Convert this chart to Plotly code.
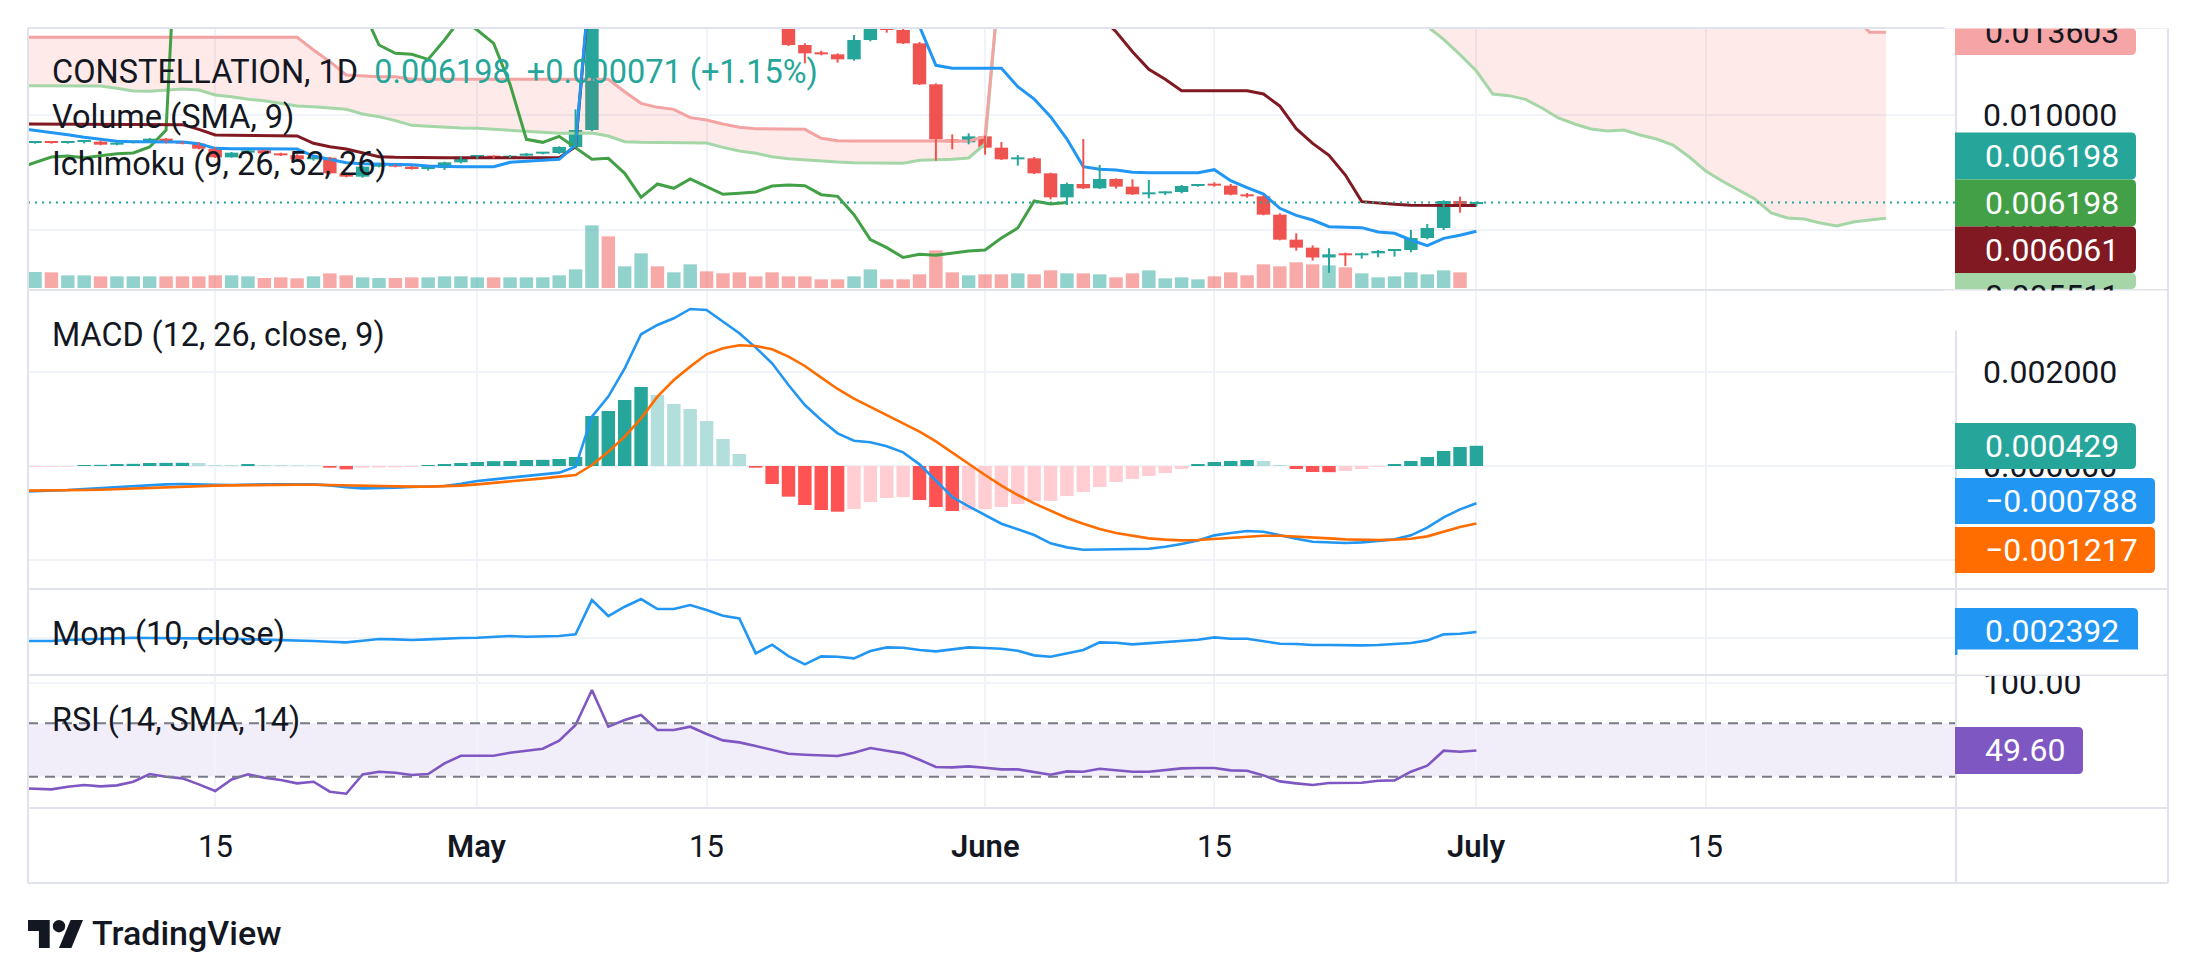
import plotly.graph_objects as go
import pandas as pd

# ------------------------------------------------------------------ data
start_date = "2023-04-03"          # first daily bar (it sits just left of the visible window)
symbol_text = "CONSTELLATION, 1D"
change_text = "+0.000071 (+1.15%)"
volume_title = "Volume (SMA, 9)"
ichimoku_title = "Ichimoku (9, 26, 52, 26)"
macd_title = "MACD (12, 26, close, 9)"
mom_title = "Mom (10, close)"
rsi_title = "RSI (14, SMA, 14)"

open_ = [0.008810,
         0.008783, 0.008841, 0.008783, 0.008826, 0.008841, 0.008710, 0.008797, 0.008826, 0.008971, 0.008797,
         0.008754, 0.008536, 0.008159, 0.008362, 0.008464, 0.008333, 0.008246, 0.008072, 0.008145, 0.007464,
         0.007319, 0.007754, 0.007826, 0.007754, 0.007652, 0.007696, 0.007942, 0.008174, 0.008217, 0.008145,
         0.008232, 0.008319, 0.008348, 0.008609, 0.009348, 0.02326, 0.0172, 0.0208, 0.0238, 0.0200,
         0.0203, 0.0206, 0.0188, 0.0174, 0.0166, 0.0157, 0.0146, 0.013043, 0.012681, 0.012638,
         0.012420, 0.013261, 0.014200, 0.013696, 0.013116, 0.011333, 0.008942, 0.008812, 0.009072, 0.008580,
         0.008072, 0.008116, 0.007464, 0.006420, 0.007000, 0.006812, 0.007217, 0.006884, 0.006551, 0.006594,
         0.006652, 0.006913, 0.006957, 0.006928, 0.006536, 0.006464, 0.005667, 0.004580, 0.004232, 0.003806,
         0.003942, 0.003899, 0.003986, 0.004087, 0.004130, 0.004652, 0.005087, 0.006261, 0.006127]
high = [0.008880,
        0.008870, 0.008870, 0.008855, 0.008870, 0.008884, 0.008826, 0.008855, 0.009000, 0.009000, 0.008855,
        0.008797, 0.008594, 0.008391, 0.008493, 0.008507, 0.008362, 0.008290, 0.008174, 0.008174, 0.007493,
        0.007783, 0.007855, 0.007855, 0.007783, 0.007710, 0.007971, 0.008203, 0.008246, 0.008246, 0.008261,
        0.008348, 0.008362, 0.008638, 0.010246, 0.0262, 0.0252, 0.0225, 0.02406, 0.0239, 0.0208,
        0.0211, 0.0209, 0.0190, 0.0177, 0.0168, 0.0159, 0.0148, 0.013116, 0.012797, 0.012681,
        0.013478, 0.016000, 0.014450, 0.013750, 0.013174, 0.011377, 0.009159, 0.009203, 0.009101, 0.008826,
        0.008261, 0.008174, 0.007493, 0.007058, 0.008957, 0.007826, 0.007246, 0.007203, 0.007174, 0.006681,
        0.006957, 0.006986, 0.007072, 0.007000, 0.006609, 0.006507, 0.005725, 0.004855, 0.004333, 0.004203,
        0.004014, 0.004014, 0.004130, 0.004159, 0.005000, 0.005261, 0.006290, 0.006449, 0.006240]
low = [0.008760,
       0.008754, 0.008754, 0.008754, 0.008768, 0.008681, 0.008681, 0.008768, 0.008797, 0.008768, 0.008725,
       0.008507, 0.008130, 0.008145, 0.008333, 0.008304, 0.008217, 0.008043, 0.008014, 0.007420, 0.007290,
       0.007275, 0.007725, 0.007725, 0.007623, 0.007580, 0.007609, 0.007899, 0.008101, 0.008116, 0.008130,
       0.008188, 0.008290, 0.008304, 0.008565, 0.009300, 0.0165, 0.0168, 0.0202, 0.0195, 0.0192,
       0.0198, 0.0185, 0.0170, 0.0162, 0.0154, 0.0143, 0.0130, 0.012246, 0.012594, 0.012275,
       0.012362, 0.013203, 0.013580, 0.013087, 0.011304, 0.008014, 0.008507, 0.008725, 0.008275, 0.008043,
       0.007797, 0.007435, 0.006333, 0.006087, 0.006783, 0.006783, 0.006797, 0.006522, 0.006377, 0.006522,
       0.006594, 0.006884, 0.006884, 0.006507, 0.006406, 0.005638, 0.004551, 0.004101, 0.003667, 0.003145,
       0.003435, 0.003754, 0.003812, 0.003841, 0.004029, 0.004594, 0.005000, 0.005754, 0.006043]
close = [0.008783,
         0.008841, 0.008783, 0.008826, 0.008841, 0.008710, 0.008797, 0.008826, 0.008971, 0.008797, 0.008754,
         0.008536, 0.008159, 0.008362, 0.008464, 0.008333, 0.008246, 0.008072, 0.008145, 0.007464, 0.007319,
         0.007754, 0.007826, 0.007754, 0.007652, 0.007696, 0.007942, 0.008174, 0.008217, 0.008145, 0.008232,
         0.008319, 0.008348, 0.008609, 0.009348, 0.02326, 0.0172, 0.0208, 0.0238, 0.0200, 0.0203,
         0.0206, 0.0188, 0.0174, 0.0166, 0.0157, 0.0146, 0.013043, 0.012681, 0.012638, 0.012420,
         0.013261, 0.014200, 0.013696, 0.013116, 0.011333, 0.008942, 0.008812, 0.009072, 0.008580, 0.008072,
         0.008116, 0.007464, 0.006420, 0.007000, 0.006812, 0.007217, 0.006884, 0.006551, 0.006594, 0.006652,
         0.006913, 0.006957, 0.006928, 0.006536, 0.006464, 0.005667, 0.004580, 0.004232, 0.003806, 0.003942,
         0.003899, 0.003986, 0.004087, 0.004130, 0.004652, 0.005087, 0.006261, 0.006127, 0.006198]
volume = [46,
          48, 47, 38, 38, 35, 35, 35, 35, 35, 35, 35, 38, 38, 35, 30, 32, 29, 35, 44, 38, 32, 30, 30,
          32, 32, 35, 35, 32, 32, 32, 32, 32, 38, 56, 188, 155, 65, 104, 65, 47, 71, 50, 44, 47, 35, 47,
          35, 35, 26, 26, 35, 56, 26, 26, 41, 113, 47, 38, 41, 41, 44, 41, 53, 44, 44, 41, 32, 44, 53,
          29, 32, 26, 35, 47, 38, 71, 65, 77, 71, 68, 62, 44, 32, 35, 47, 41, 53, 47, 0]

tenkan = [0.009420,
          0.009333, 0.009246, 0.009145, 0.009029, 0.008942, 0.008855, 0.008841, 0.008841, 0.008841, 0.008826,
          0.008754, 0.008551, 0.008536, 0.008536, 0.008536, 0.008522, 0.008522, 0.008217, 0.008072, 0.007928,
          0.007884, 0.007870, 0.007870, 0.007841, 0.007783, 0.007754, 0.007754, 0.007754, 0.007754, 0.007942,
          0.007986, 0.008014, 0.008072, 0.008696, 0.0169, 0.0171, 0.0172, 0.0172, 0.0172, 0.0172,
          0.0172, 0.0172, 0.0177, 0.0203, 0.0203, 0.0199, 0.0186, 0.0174, 0.0174, 0.0172,
          0.0161, 0.0152, 0.0149, 0.0145, 0.01385, 0.012159, 0.012029, 0.012029, 0.012029, 0.012029,
          0.011232, 0.010696, 0.009928, 0.008957, 0.007754, 0.007638, 0.007609, 0.007507, 0.007493, 0.007493,
          0.007493, 0.007493, 0.007623, 0.007145, 0.006841, 0.006565, 0.005942, 0.005638, 0.005435, 0.005145,
          0.005116, 0.005101, 0.004913, 0.004855, 0.004565, 0.004319, 0.004638, 0.004768, 0.004942]
kijun = [0.009609,
         0.009609, 0.009609, 0.009609, 0.009609, 0.009609, 0.009609, 0.009609, 0.009609, 0.009609, 0.009580,
         0.009377, 0.009130, 0.009116, 0.009116, 0.009101, 0.009087, 0.009087, 0.008768, 0.008623, 0.008522,
         0.008362, 0.008188, 0.008159, 0.008145, 0.008145, 0.008145, 0.008145, 0.008145, 0.008145, 0.008145,
         0.008145, 0.008145, 0.008145, 0.008623, 0.0167, 0.0167, 0.0167, 0.0167, 0.0167, 0.0167,
         0.0167, 0.0167, 0.0167, 0.0167, 0.0167, 0.0167, 0.0168, 0.0168, 0.0168, 0.0168,
         0.0168, 0.0168, 0.0168, 0.0168, 0.0168, 0.0168, 0.0170, 0.0170, 0.0170, 0.0170,
         0.01665, 0.0159, 0.0159, 0.0158, 0.0151, 0.0143, 0.013623, 0.012754, 0.011986, 0.011551,
         0.011058, 0.011058, 0.011058, 0.011058, 0.011058, 0.010913, 0.010391, 0.009406, 0.008768, 0.008246,
         0.007391, 0.006232, 0.006159, 0.006116, 0.006072, 0.006061, 0.006061, 0.006061, 0.006061]
span_a = [0.011275,
          0.011275, 0.011275, 0.011275, 0.011275, 0.011261, 0.011159, 0.011044, 0.011029, 0.011087, 0.011130,
          0.011087, 0.010870, 0.010797, 0.010681, 0.010623, 0.010507, 0.010391, 0.010362, 0.010319, 0.010246,
          0.010043, 0.009928, 0.009754, 0.009551, 0.009507, 0.009464, 0.009435, 0.009420, 0.009377, 0.009333,
          0.009275, 0.009232, 0.009203, 0.009203, 0.009217, 0.009087, 0.008841, 0.008812, 0.008812, 0.008797,
          0.008797, 0.008783, 0.008594, 0.008435, 0.008333, 0.008188, 0.008101, 0.008043, 0.007986, 0.007957,
          0.007928, 0.007913, 0.007899, 0.007899, 0.008029, 0.008043, 0.008072, 0.008130, 0.008739, 0.0168,
          0.0169, 0.01695, 0.01695, 0.01695, 0.01695, 0.01695, 0.01695, 0.0172, 0.0185, 0.0185,
          0.0183, 0.0177, 0.0171, 0.0171, 0.0170, 0.01645, 0.0160, 0.01585, 0.01575, 0.0154,
          0.01458, 0.01452, 0.01452, 0.01452, 0.01452, 0.01385, 0.013290, 0.012623, 0.011913, 0.010913,
          0.010841, 0.010681, 0.010304, 0.009870, 0.009609, 0.009391, 0.009304, 0.009348, 0.009130, 0.008957,
          0.008696, 0.008174, 0.007565, 0.007130, 0.006739, 0.006348, 0.005739, 0.005522, 0.005478, 0.005304,
          0.005174, 0.005348, 0.005435, 0.005511]
span_b = [0.013378] * 18 + [0.012826, 0.012318, 0.011739, 0.011696, 0.011667, 0.011667] + \
         [0.011551] * 13 + [0.011014, 0.010507, 0.010333, 0.010246, 0.009884, 0.009783, 0.009609, 0.009464,
                            0.009406, 0.009406, 0.009406, 0.009377, 0.008986, 0.008884] + \
         [0.008870] * 8 + [0.009058] + [0.0167] * 37 + [0.0160] * 8 + [0.0146] * 7 + \
         [0.01432, 0.013603, 0.013603]

macd = [-0.000545,
        -0.000537, -0.000523, -0.000509, -0.000488, -0.000467, -0.000452, -0.000424, -0.000403, -0.000389, -0.000382,
        -0.000382, -0.000396, -0.000403, -0.000389, -0.000389, -0.000389, -0.000389, -0.000389, -0.000410, -0.000452,
        -0.000474, -0.000474, -0.000460, -0.000445, -0.000438, -0.000424, -0.000375, -0.000318, -0.000283, -0.000247,
        -0.000219, -0.000170, -0.000141, -0.000014, 0.001046, 0.001471, 0.002072, 0.002793, 0.002991, 0.003132,
        0.003330, 0.003309, 0.003061, 0.002814, 0.002510, 0.002178, 0.001718, 0.001294, 0.000976, 0.000693,
        0.000537, 0.000502, 0.000417, 0.000290, 0.000035, -0.000318, -0.000658, -0.000855, -0.001039, -0.001223,
        -0.001343, -0.001463, -0.001640, -0.001725, -0.001775, -0.001768, -0.001760, -0.001760, -0.001753, -0.001711,
        -0.001654, -0.001577, -0.001471, -0.001421, -0.001379, -0.001393, -0.001471, -0.001541, -0.001605, -0.001626,
        -0.001633, -0.001619, -0.001591, -0.001555, -0.001471, -0.001308, -0.001089, -0.000919, -0.000788]
signal = [-0.000523,
          -0.000523, -0.000523, -0.000516, -0.000509, -0.000502, -0.000488, -0.000474, -0.000460, -0.000445, -0.000431,
          -0.000424, -0.000417, -0.000410, -0.000403, -0.000403, -0.000403, -0.000396, -0.000396, -0.000403, -0.000424,
          -0.000431, -0.000438, -0.000438, -0.000438, -0.000438, -0.000431, -0.000417, -0.000389, -0.000361, -0.000332,
          -0.000297, -0.000262, -0.000226, -0.000191, 0.000021, 0.000304, 0.000622, 0.001011, 0.001471, 0.001824,
          0.002107, 0.002368, 0.002496, 0.002559, 0.002545, 0.002475, 0.002319, 0.002121, 0.001874, 0.001633,
          0.001428, 0.001251, 0.001089, 0.000905, 0.000728, 0.000523, 0.000283, 0.000035, -0.000191, -0.000417,
          -0.000615, -0.000792, -0.000954, -0.001103, -0.001223, -0.001336, -0.001421, -0.001478, -0.001534, -0.001562,
          -0.001577, -0.001570, -0.001548, -0.001534, -0.001506, -0.001478, -0.001478, -0.001492, -0.001513, -0.001534,
          -0.001555, -0.001570, -0.001570, -0.001562, -0.001541, -0.001492, -0.001393, -0.001294, -0.001217]
hist = [-0.000024,
        -0.000021, -0.000018, -0.000014, 0.000021, 0.000025, 0.000042, 0.000046, 0.000064, 0.000066, 0.000068,
        0.000064, 0.000021, 0.000020, 0.000042, 0.000021, 0.000018, 0.000014, 0.000011, -0.000035, -0.000071,
        -0.000035, -0.000032, -0.000028, -0.000021, 0.000021, 0.000042, 0.000064, 0.000085, 0.000103, 0.000106,
        0.000127, 0.000131, 0.000148, 0.000191, 0.001061, 0.001167, 0.001400, 0.001676, 0.001506, 0.001315,
        0.001209, 0.000954, 0.000573, 0.000255, -0.000035, -0.000382, -0.000650, -0.000827, -0.000933, -0.000969,
        -0.000912, -0.000764, -0.000679, -0.000658, -0.000721, -0.000870, -0.000954, -0.000933, -0.000912, -0.000870,
        -0.000806, -0.000742, -0.000739, -0.000636, -0.000551, -0.000445, -0.000339, -0.000276, -0.000212, -0.000148,
        -0.000064, 0.000042, 0.000085, 0.000106, 0.000127, 0.000106, 0.000021, -0.000064, -0.000127, -0.000131,
        -0.000106, -0.000064, -0.000021, 0.000042, 0.000106, 0.000191, 0.000318, 0.000403, 0.000429]
mom = [-0.001380,
       -0.001380, -0.001380, -0.000966, -0.000690, -0.000414, -0.000276, 0.0, -0.000138, -0.000276, -0.000276,
       -0.000276, -0.000276, -0.000414, -0.000552, -0.000690, -0.000966, -0.001242, -0.001380, -0.001656, -0.001932,
       -0.001242, -0.000552, -0.000690, -0.000966, -0.000690, -0.000276, -0.000138, 0.0, 0.000276, 0.000690,
       0.000414, 0.000414, 0.000690, 0.001380, 0.015594, 0.008970, 0.012834, 0.016008, 0.011868, 0.011868,
       0.013524, 0.011454, 0.009108, 0.008004, -0.006486, -0.002898, -0.007590, -0.011040, -0.007728, -0.007866,
       -0.008556, -0.005520, -0.004002, -0.004140, -0.005106, -0.005658, -0.004692, -0.004002, -0.004278, -0.004554,
       -0.005382, -0.007314, -0.007866, -0.006624, -0.005106, -0.001932, -0.002070, -0.002760, -0.002208, -0.001656,
       -0.001380, -0.000828, 0.000138, -0.000414, -0.000414, -0.001518, -0.002484, -0.002622, -0.003036, -0.003036,
       -0.003174, -0.003174, -0.003036, -0.002760, -0.002208, -0.001104, 0.001380, 0.001656, 0.002392]
rsi = [21.45,
       20.95, 20.45, 22.45, 23.7, 22.7, 23.45, 26.2, 31.95, 29.95, 28.7, 24.2, 19.2, 27.95, 31.7, 29.2,
       27.45, 24.95, 26.2, 18.7, 17.2, 31.7, 33.7, 32.95, 31.2, 31.95, 39.95, 45.7, 45.7, 45.7, 47.95,
       49.7, 50.95, 56.95, 68.7, 94.95, 67.45, 72.45, 76.2, 64.95, 64.95, 67.45, 61.95, 57.2, 55.7, 52.95,
       49.95, 47.2, 46.45, 45.95, 45.45, 47.95, 51.45, 49.45, 47.45, 42.7, 37.2, 36.95, 37.7, 36.7, 35.45,
       35.45, 33.7, 31.45, 33.95, 33.7, 35.95, 34.95, 33.7, 33.7, 34.7, 36.2, 36.45, 36.45, 34.7, 34.45,
       30.95, 26.45, 24.95, 23.7, 25.2, 25.45, 25.45, 26.95, 27.2, 33.7, 38.2, 49.45, 48.7, 49.60]

RSI_UPPER, RSI_LOWER = 70, 30
CHIKOU_SHIFT = 25                   # TradingView plots the lagging span 26 - 1 bars back

tick_dates = ["2023-04-15", "2023-05-01", "2023-05-15", "2023-06-01", "2023-06-15", "2023-07-01", "2023-07-15"]
tick_text = ["15", "May", "15", "June", "15", "July", "15"]
tick_is_month = [False, True, False, True, False, True, False]

# ------------------------------------------------------------------ geometry / style
W, H = 2197, 980
def PX(x): return x / W
def PY(y): return 1 - y / H

X0, X1, XR = 28, 1956, 2168           # plot left, price-axis line, right border
P_MAIN, P_MACD, P_MOM, P_RSI = (28, 290), (290, 589), (589, 675), (675, 808)
FONT = "Roboto"
TXT = "#131722"
UP, DOWN = "#26A69A", "#EF5350"
GRID = "#F0F3FA"
FRAME = "#E0E3EB"

dates = pd.date_range(start_date, periods=len(close), freq="D")
dates_cloud = pd.date_range(start_date, periods=len(span_a), freq="D")
day0 = pd.Timestamp(start_date)
x_range = [day0 + pd.Timedelta(days=0.57), day0 + pd.Timedelta(days=118.28)]
BAR_W = 0.82 * 86400000

price_range = [0.002391, 0.013783]
vol_range = [-6, 780]
macd_range = [-0.002608, 0.003732]
mom_range = [-0.01544, 0.02016]
rsi_range = [6.5, 106.2]

fig = go.Figure()

# volume
up_flags = [c >= o for o, c in zip(open_, close)]
fig.add_trace(go.Bar(x=dates, y=volume, width=BAR_W, xaxis="x", yaxis="y",
                     marker=dict(color=["rgba(38,166,154,0.5)" if u else "rgba(239,83,80,0.5)" for u in up_flags],
                                 line_width=0)))

# ichimoku cloud
fig.add_trace(go.Scatter(x=dates_cloud, y=span_a, mode="lines", xaxis="x", yaxis="y2",
                         line=dict(color="#A5D6A7", width=3)))
fig.add_trace(go.Scatter(x=dates_cloud, y=span_b, mode="lines", xaxis="x", yaxis="y2",
                         line=dict(color="#F4A3A3", width=3), fill="tonexty",
                         fillcolor="rgba(244,67,54,0.11)"))
# lagging span
fig.add_trace(go.Scatter(x=dates[:len(close) - CHIKOU_SHIFT], y=close[CHIKOU_SHIFT:], mode="lines",
                         xaxis="x", yaxis="y2", line=dict(color="#43A047", width=3)))
fig.add_trace(go.Scatter(x=dates, y=kijun, mode="lines", xaxis="x", yaxis="y2",
                         line=dict(color="#801922", width=3)))
fig.add_trace(go.Scatter(x=dates, y=tenkan, mode="lines", xaxis="x", yaxis="y2",
                         line=dict(color="#2196F3", width=3)))

# candles: wicks + bodies
for flag, col in ((True, UP), (False, DOWN)):
    wx, wy = [], []
    for d, h_, l_, u in zip(dates, high, low, up_flags):
        if u == flag:
            wx += [d, d, None]
            wy += [l_, h_, None]
    fig.add_trace(go.Scatter(x=wx, y=wy, mode="lines", xaxis="x", yaxis="y2",
                             line=dict(color=col, width=2)))
min_body = (price_range[1] - price_range[0]) / (P_MAIN[1] - P_MAIN[0]) * 2
fig.add_trace(go.Bar(x=dates, y=[max(abs(c - o), min_body) for o, c in zip(open_, close)],
                     base=[min(o, c) for o, c in zip(open_, close)], width=BAR_W,
                     xaxis="x", yaxis="y2",
                     marker=dict(color=[UP if u else DOWN for u in up_flags], line_width=0)))

# MACD
hcol = []
for i, v in enumerate(hist):
    prev = hist[i - 1] if i > 0 else v
    if v >= 0:
        hcol.append("#26A69A" if v > prev else "#B2DFDB")
    else:
        hcol.append("#FF5252" if v < prev else "#FFCDD2")
fig.add_trace(go.Bar(x=dates, y=hist, width=BAR_W, xaxis="x2", yaxis="y3",
                     marker=dict(color=hcol, line_width=0)))
fig.add_trace(go.Scatter(x=dates, y=macd, mode="lines", xaxis="x2", yaxis="y3",
                         line=dict(color="#2196F3", width=2.6)))
fig.add_trace(go.Scatter(x=dates, y=signal, mode="lines", xaxis="x2", yaxis="y3",
                         line=dict(color="#FF6D00", width=2.6)))
# Momentum
fig.add_trace(go.Scatter(x=dates, y=mom, mode="lines", xaxis="x3", yaxis="y4",
                         line=dict(color="#2196F3", width=2.6)))
# RSI
fig.add_trace(go.Scatter(x=dates, y=rsi, mode="lines", xaxis="x4", yaxis="y5",
                         line=dict(color="#7E57C2", width=2.6)))

# ------------------------------------------------------------------ axes
def xax(anchor, match=True):
    d = dict(domain=[PX(X0), PX(X1)], anchor=anchor, type="date", range=x_range,
             showticklabels=False, showgrid=True, gridcolor=GRID, gridwidth=2,
             tickvals=tick_dates, ticks="", zeroline=False, showline=False)
    if match:
        d["matches"] = "x"
    return d

def yax(pane, rng, tickvals, fmt, anchor):
    return dict(domain=[PY(pane[1]), PY(pane[0])], range=rng, anchor=anchor, side="right",
                tickvals=tickvals, tickformat=fmt, showgrid=True, gridcolor=GRID, gridwidth=2,
                zeroline=False, showline=False, ticks="", ticklabelstandoff=26, automargin=False,
                tickfont=dict(family=FONT, size=32, color=TXT))

price_ax = yax(P_MAIN, price_range, [0.005, 0.010], ".6f", "x")
price_ax["overlaying"] = "y"
fig.update_layout(
    width=W, height=H, margin=dict(l=0, r=0, t=0, b=0),
    paper_bgcolor="white", plot_bgcolor="white", showlegend=False, hovermode=False,
    barmode="overlay",
    xaxis=xax("y", match=False), xaxis2=xax("y3"), xaxis3=xax("y4"), xaxis4=xax("y5"),
    yaxis=dict(domain=[PY(P_MAIN[1]), PY(P_MAIN[0])], range=vol_range, visible=False,
               showgrid=False, zeroline=False),
    yaxis2=price_ax,
    yaxis3=yax(P_MACD, macd_range, [-0.002, 0.0, 0.002], ".6f", "x2"),
    yaxis4=yax(P_MOM, mom_range, [0.0], ".6f", "x3"),
    yaxis5=yax(P_RSI, rsi_range, [100], ".2f", "x4"),
)

# ------------------------------------------------------------------ shapes
shapes = []
shapes.append(dict(type="rect", xref="paper", yref="y5", x0=PX(X0), x1=PX(X1), y0=RSI_LOWER, y1=RSI_UPPER,
                   fillcolor="rgba(126,87,194,0.1)", line_width=0, layer="below"))
for lvl in (RSI_UPPER, RSI_LOWER):
    shapes.append(dict(type="line", xref="paper", yref="y5", x0=PX(X0), x1=PX(X1), y0=lvl, y1=lvl,
                       line=dict(color="#787B86", width=2, dash="10px,7px")))
shapes.append(dict(type="line", xref="paper", yref="y2", x0=PX(X0), x1=PX(X1), y0=close[-1], y1=close[-1],
                   line=dict(color=UP, width=2, dash="2px,5px")))

def hline(y, x0=X0, x1=XR):
    return dict(type="line", xref="paper", yref="paper", x0=PX(x0), x1=PX(x1), y0=PY(y), y1=PY(y),
                line=dict(color=FRAME, width=2), layer="above")
def vline(x, y0=28, y1=883):
    return dict(type="line", xref="paper", yref="paper", x0=PX(x), x1=PX(x), y0=PY(y0), y1=PY(y1),
                line=dict(color=FRAME, width=2), layer="above")
for yy in (28, 290, 589, 675, 808, 883):
    shapes.append(hline(yy))
for xx in (X0, X1, XR):
    shapes.append(vline(xx))

def rbox(x0, x1, y0, y1, color, r=5):
    p = (f"M {PX(x0)},{PY(y0)} L {PX(x1 - r)},{PY(y0)} Q {PX(x1)},{PY(y0)} {PX(x1)},{PY(y0 + r)} "
         f"L {PX(x1)},{PY(y1 - r)} Q {PX(x1)},{PY(y1)} {PX(x1 - r)},{PY(y1)} L {PX(x0)},{PY(y1)} Z")
    return dict(type="path", path=p, xref="paper", yref="paper", fillcolor=color, line_width=0, layer="above")

def fmt6(v):
    return f"{v:.6f}".replace("-", "\u2212")

# (x0, x1, y0, y1, box colour, text, text colour, text centre y)
labels = [
    (1955, 2136, 28, 55, "#F5A5A5", fmt6(span_b[-1]), TXT, 32),
    (1955, 2136, 132.5, 179.5, UP, fmt6(close[-1]), "white", 156),
    (1955, 2136, 179.5, 226.5, "#43A047", fmt6(close[-1]), "white", 203),
    (1955, 2136, 226.5, 273, "#801922", fmt6(kijun[-1]), "white", 250),
    (1955, 2136, 273, 289, "#A5D6A7", fmt6(span_a[-1]), TXT, 296),
    (1955, 2136, 423, 469, UP, fmt6(hist[-1]), "white", 446),
    (1955, 2155, 478, 524, "#2196F3", fmt6(macd[-1]), "white", 501),
    (1955, 2155, 527, 573, "#FF6D00", fmt6(signal[-1]), "white", 550),
    (1955, 2138, 608, 655, "#2196F3", fmt6(mom[-1]), "white", 631),
    (1955, 2083, 727, 774, "#7E57C2", f"{rsi[-1]:.2f}", "white", 750),
]
for x0, x1, y0, y1, col, _, _, _ in labels:
    shapes.append(rbox(x0, x1, y0, y1, col))

# TradingView logo
def poly(pts, color="#131722"):
    p = "M " + " L ".join(f"{PX(a)},{PY(b)}" for a, b in pts) + " Z"
    return dict(type="path", path=p, xref="paper", yref="paper", fillcolor=color, line_width=0)
shapes.append(poly([(28, 920), (49.7, 920), (49.7, 948), (38.9, 948), (38.9, 931), (28, 931)]))
shapes.append(poly([(59, 948), (71.4, 948), (83, 920), (70.6, 920)]))
shapes.append(dict(type="circle", xref="paper", yref="paper", x0=PX(52.8), x1=PX(65.2), y0=PY(932.4),
                   y1=PY(920), fillcolor="#131722", line_width=0))

# ------------------------------------------------------------------ annotations
ann = []
def text(t, x, y, size, color=TXT, xanchor="left", weight="normal", xref="paper", yref="paper"):
    ann.append(dict(text=t, x=x, y=y, xref=xref, yref=yref, xanchor=xanchor, yanchor="middle",
                    showarrow=False, borderpad=0, font=dict(family=FONT, size=size, color=color, weight=weight)))
def cover(x0, x1, y0, y1):
    ann.append(dict(text="\u00a0", x=PX((x0 + x1) / 2), y=PY((y0 + y1) / 2), xref="paper", yref="paper",
                    xanchor="center", yanchor="middle", showarrow=False, width=x1 - x0, height=y1 - y0,
                    bgcolor="white", borderpad=0, font=dict(size=4)))

nb = "\u00a0"
text(f"{symbol_text}{nb}<span style='color:{UP}'>{nb}{close[-1]:.6f}{nb}{nb}{change_text}</span>",
     PX(51), PY(71.8), 32.5)
text(volume_title, PX(51), PY(117.4), 32.5)
text(ichimoku_title, PX(51), PY(164.1), 32.5)
text(macd_title, PX(51), PY(335.1), 32.3)
text(mom_title, PX(51), PY(634.1), 32.3)
text(rsi_title, PX(51), PY(719.8), 32.3)

for _, _, _, _, _, t, tc, yc in labels:
    text(t, PX(1984), PY(yc), 32, color=tc)
cover(1945, 2197, 0, 27.5)      # label clipped by the top of the chart
cover(1945, 2165, 291.5, 330)   # label clipped by the pane separator
cover(1958, 2165, 650, 674)     # 100.00 clipped by the pane separator

for d, t, m in zip(tick_dates, tick_text, tick_is_month):
    text(t, d, PY(846.5), 31, xanchor="center", weight=600 if m else "normal", xref="x4")

ann.append(dict(text="TradingView", x=PX(91), y=PY(933), xref="paper", yref="paper", xanchor="left",
                yanchor="middle", showarrow=False, borderpad=0,
                font=dict(family=FONT, size=34, color="#131722", weight=500)))

fig.update_layout(shapes=shapes, annotations=ann)

fig.write_html("out.html", config={"displayModeBar": False, "staticPlot": True},
               post_script="document.body.style.margin='0';document.body.style.overflow='hidden';")
